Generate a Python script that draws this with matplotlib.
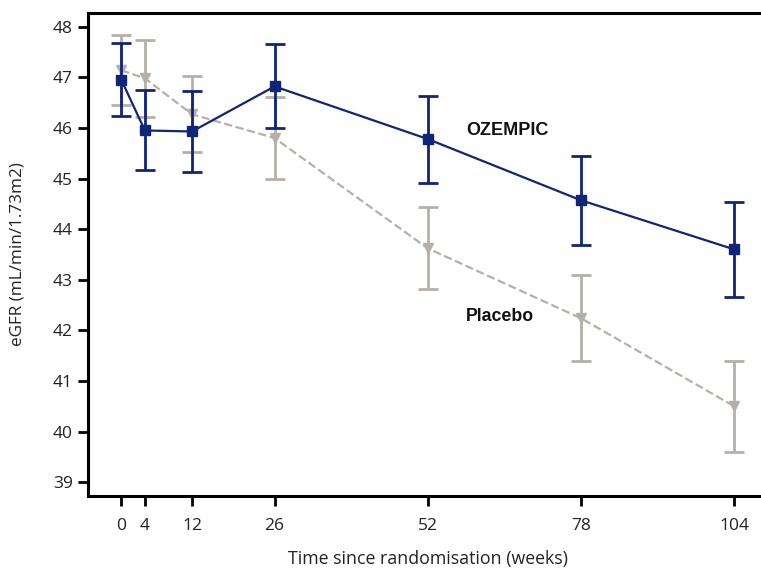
import matplotlib.pyplot as plt

# weeks since randomisation
weeks = [0, 4, 12, 26, 52, 78, 104]

# OZEMPIC mean eGFR and error bar half-width
oz_mean = [46.95, 45.95, 45.93, 46.82, 45.78, 44.57, 43.60]
oz_err = [0.72, 0.79, 0.80, 0.83, 0.86, 0.88, 0.93]

# Placebo mean eGFR and error bar half-width
pl_mean = [47.14, 46.98, 46.27, 45.80, 43.62, 42.24, 40.50]
pl_err = [0.69, 0.76, 0.75, 0.81, 0.81, 0.85, 0.90]

navy = '#102578'
grey = '#b5b0aa'

fig = plt.figure(figsize=(7.61, 5.71), dpi=100)
ax = fig.add_axes([88/761, 1-496/571, 690/761, 483/571])

# placebo underneath
ax.errorbar(weeks, pl_mean, yerr=pl_err, color=grey, ls='--', lw=1.6,
            marker='v', ms=7, elinewidth=2, capsize=7, capthick=2, zorder=2)
ax.errorbar(weeks, oz_mean, yerr=oz_err, color=navy, ls='-', lw=1.6,
            marker='s', ms=6.5, elinewidth=2, capsize=7, capthick=2, zorder=3)

ax.text(58.5, 45.95, 'OZEMPIC', fontsize=13, fontweight='bold',
        family='Liberation Sans', va='center', color='#111111')
ax.text(58.5, 42.27, 'Placebo', fontsize=12.8, fontweight='bold',
        family='Liberation Sans', va='center', color='#111111')

ax.set_xlim(-5.65, 111.4)
ax.set_ylim(38.73, 48.27)
ax.set_xticks(weeks)
ax.set_yticks(range(39, 49))

for s in ['left', 'bottom', 'top']:
    ax.spines[s].set_linewidth(2.2)
ax.spines['right'].set_visible(False)
ax.tick_params(direction='out', length=7.5, width=2, labelsize=12.5,
               labelcolor='#222222')
ax.tick_params(axis='x', pad=8)
ax.tick_params(axis='y', pad=3.5)

ax.set_xlabel('Time since randomisation (weeks)', fontsize=12.8,
              family='Open Sans', color='#222222', va='center')
ax.set_ylabel('eGFR (mL/min/1.73m2)', fontsize=12.3,
              family='Open Sans', color='#222222', va='center')
ax.xaxis.set_label_coords(340/690, -63/483)
ax.yaxis.set_label_coords(-70/690, 0.5)
for lbl in ax.get_xticklabels() + ax.get_yticklabels():
    lbl.set_family('Open Sans')

fig.savefig('out.png', dpi=100)
